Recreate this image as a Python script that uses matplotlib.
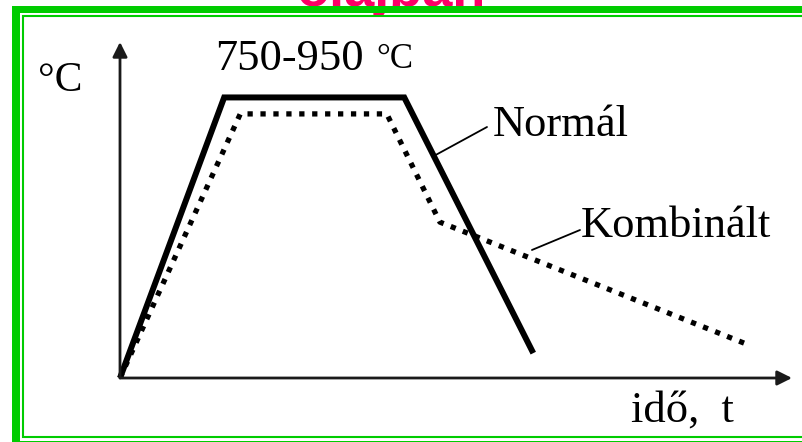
import matplotlib.pyplot as plt
from matplotlib.patches import Rectangle

W, H = 803, 442

# time / temperature (arbitrary units, 0-100 on both axes)
normal_t = [0, 15.5, 42.3, 61.5]
normal_T = [0, 83.5, 83.5, 7.4]
komb_t = [0, 17.9, 39.7, 47.6, 93.6]
komb_T = [0, 78.6, 78.6, 46.4, 9.8]

labels = ["Normál", "Kombinált"]
title_range = "750-950"
unit = "°C"
xlabel = "idő,  t"
top_text = "olajban"

GREEN = "#00CC00"
RED = "#FF0066"
SERIF = "Liberation Serif"


def px(x, y):
    # pixel position -> figure fraction
    return x / W, 1 - y / H


fig = plt.figure(figsize=(W / 100, H / 100), dpi=100)
fig.patch.set_facecolor("white")

# axes: origin at (120, 378) px, arrow tips at x=792, y=42
x0, y0 = px(120, 378)
x1, y1 = px(792, 42)
ax = fig.add_axes([x0, y0, x1 - x0, y1 - y0], zorder=4)
ax.patch.set_alpha(0)
ax.set_xlim(0, 100)
ax.set_ylim(0, 100)
for s in ax.spines.values():
    s.set_visible(False)
ax.set_xticks([])
ax.set_yticks([])

arrow = dict(arrowstyle="-|>", lw=2, color="#1a1a1a", mutation_scale=22,
             shrinkA=0, shrinkB=0)
ax.annotate("", xy=(1, 0), xytext=(0, 0), xycoords="axes fraction",
            arrowprops=arrow, annotation_clip=False)
ax.annotate("", xy=(0, 1), xytext=(0, 0), xycoords="axes fraction",
            arrowprops=arrow, annotation_clip=False)

ax.plot(normal_t, normal_T, color="black", lw=4.3, solid_joinstyle="miter",
        solid_capstyle="butt", clip_on=False)
ax.plot(komb_t, komb_T, color="black", lw=3.8, linestyle=(0, (1, 1.45)),
        dash_capstyle="butt", clip_on=False)

# leader lines from labels to curves
lead = dict(arrowstyle="-", lw=1.3, color="black", shrinkA=0, shrinkB=0)
ax.annotate("", xy=(47.0, 66.4), xytext=px(487, 127),
            textcoords="figure fraction", arrowprops=lead)
ax.annotate("", xy=(61.3, 38.1), xytext=px(580, 230),
            textcoords="figure fraction", arrowprops=lead)

# texts
fig.text(*px(493, 136), labels[0], family=SERIF, fontsize=32, va="baseline", zorder=5)
fig.text(*px(581, 237), labels[1], family=SERIF, fontsize=32, va="baseline", zorder=5)
fig.text(*px(215, 70), title_range, family=SERIF, fontsize=32, va="baseline", zorder=5)
fig.text(*px(376, 68), unit, family=SERIF, fontsize=25, va="baseline", zorder=5)
fig.text(*px(38, 91), unit, family=SERIF, fontsize=30, va="baseline", zorder=5)
fig.text(*px(631, 422), xlabel, family=SERIF, fontsize=32, va="baseline", zorder=5)

# red heading cut off at the top
fig.text(*px(297, 6), top_text, family="Liberation Sans", fontweight="bold",
         fontsize=39, color=RED, va="baseline", zorder=1)

# frame: inner thin green box with white fill, outer thick green bars
fig.patches.append(Rectangle(px(23, 437), (W + 50) / W, (437 - 16) / H,
                             transform=fig.transFigure, facecolor="white",
                             edgecolor=GREEN, lw=1.5, zorder=2))
for (bx, by, bw, bh) in [(12, 6, W, 7), (12, 6, 8, H), (12, 441, W, 8)]:
    fig.patches.append(Rectangle(px(bx, by + bh), bw / W, bh / H,
                                 transform=fig.transFigure, facecolor=GREEN,
                                 edgecolor="none", zorder=3))

fig.savefig("out.png", dpi=100)
